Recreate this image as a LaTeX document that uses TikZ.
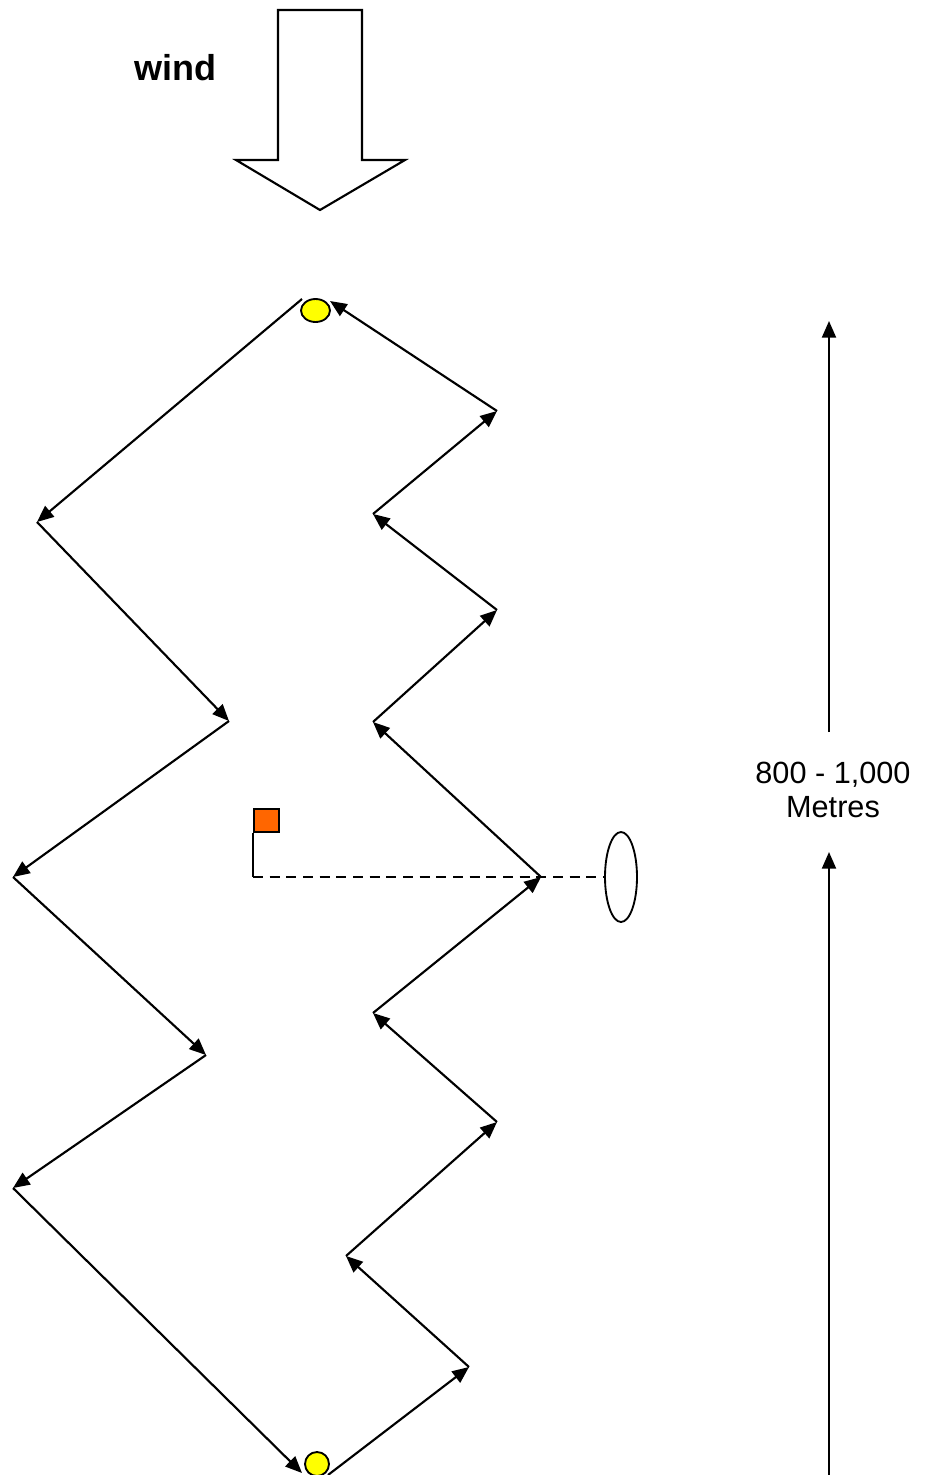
\documentclass[tikz,border=0pt]{standalone}
\usepackage{fontspec}
\setmainfont{Liberation Sans}
\usetikzlibrary{arrows.meta,shapes.geometric}
\definecolor{buoyyellow}{HTML}{FFFF00}
\definecolor{flagorange}{HTML}{FF6600}
\begin{document}
\begin{tikzpicture}[x=0.75pt,y=-0.75pt,
  leg/.style={line width=1.6pt,-{Triangle[length=12.5pt,width=10.5pt]}},
  plain/.style={line width=1.6pt},
  buoy/.style={draw,line width=1.4pt,fill=buoyyellow,ellipse,inner sep=0pt},
  lbl/.style={font=\fontsize{23}{25.5}\selectfont,align=center}]
\useasboundingbox (0,0) rectangle (927,1475);
% wind arrow
\draw[line width=1.6pt,fill=white,line join=miter] (278,10) -- (362,10) -- (362,160) -- (405,160) -- (320,210) -- (236,160) -- (278,160) -- cycle;
\node[font=\fontsize{27}{30}\bfseries\selectfont] (wind) at (175,68) {wind};
% buoys
\node[buoy,minimum width=21.75pt,minimum height=17.25pt] (topbuoy) at (315.5,310.5) {};
\node[buoy,minimum width=18pt,minimum height=18pt] (botbuoy) at (317,1464) {};
% path vertices
\coordinate (T) at (302,299);
\coordinate (L1) at (37,522);
\coordinate (L2) at (229,721);
\coordinate (L3) at (13,877);
\coordinate (L4) at (206,1055);
\coordinate (L5) at (13,1188);
\coordinate (B) at (302,1473);
\coordinate (B2) at (328,1475);
\coordinate (R1) at (469,1367);
\coordinate (R2) at (346,1256);
\coordinate (R3) at (497,1122);
\coordinate (R4) at (373,1013);
\coordinate (R5) at (541,877);
\coordinate (R6) at (373,722);
\coordinate (R7) at (497,610);
\coordinate (R8) at (373,514);
\coordinate (R9) at (497,411);
\coordinate (T2) at (330,301);
% left (downwind) legs
\draw[leg] (T) -- (L1);
\draw[leg] (L1) -- (L2);
\draw[leg] (L2) -- (L3);
\draw[leg] (L3) -- (L4);
\draw[leg] (L4) -- (L5);
\draw[leg] (L5) -- (B);
% right (upwind) legs
\draw[leg] (B2) -- (R1);
\draw[leg] (R1) -- (R2);
\draw[leg] (R2) -- (R3);
\draw[leg] (R3) -- (R4);
\draw[leg] (R4) -- (R5);
\draw[leg] (R5) -- (R6);
\draw[leg] (R6) -- (R7);
\draw[leg] (R7) -- (R8);
\draw[leg] (R8) -- (R9);
\draw[leg] (R9) -- (T2);
% flag and gate
\node[draw,line width=1.4pt,fill=flagorange,minimum width=18.75pt,minimum height=17.25pt,inner sep=0pt,anchor=south west] (flag) at (253,833) {};
\coordinate (flagfoot) at (253,877);
\node[draw,line width=1.4pt,ellipse,minimum width=24pt,minimum height=67.5pt,inner sep=0pt] (gate) at (621,877) {};
\draw[plain] (flag.south west) -- (flagfoot);
\draw[line width=1.3pt,dash pattern=on 7.5pt off 5pt] (flagfoot) -- (gate.west);
% scale
\node[lbl] (dist) at (833,790) {800 - 1,000\\Metres};
\coordinate (scaletop) at (829,321);
\coordinate (scaleup) at (829,732);
\coordinate (scalebot) at (829,1475);
\coordinate (scalemid) at (829,852);
\draw[leg] (scaleup) -- (scaletop);
\draw[leg] (scalebot) -- (scalemid);
\end{tikzpicture}
\end{document}
